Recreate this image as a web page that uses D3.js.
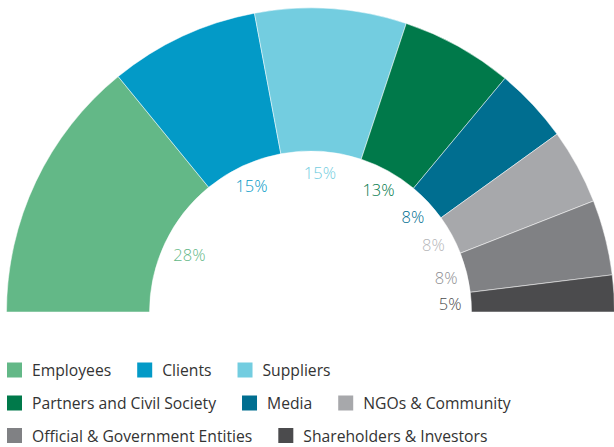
<!DOCTYPE html>
<html>
<head>
<meta charset="utf-8">
<script src="https://cdn.jsdelivr.net/npm/d3@7"></script>
<style>
  html, body { margin: 0; padding: 0; background: #fff; }
  svg { display: block; }
  text { font-family: "Open Sans", "Noto Sans", sans-serif; }
</style>
</head>
<body>
<svg id="chart" width="614" height="447"></svg>
<script>
const categories = ["Employees", "Clients", "Suppliers", "Partners and Civil Society", "Media", "NGOs & Community", "Official & Government Entities", "Shareholders & Investors"];
// slice sizes
const values = [28.2, 15.9, 16.1, 11.9, 8.0, 8.0, 8.0, 3.9];
const labels = ["28%", "15%", "15%", "13%", "8%", "8%", "8%", "5%"];
const colors = ["#63b887", "#039ac7", "#73cde0", "#00794a", "#006e90", "#a7a8ab", "#808184", "#4b4b4d"];
const labelColors = ["#63b887", "#039ac7", "#73cde0", "#00794a", "#006e90", "#b5b6b9", "#8f9093", "#4b4b4d"];
const legendRows = [[0, 1, 2], [3, 4, 5], [6, 7]];

const svg = d3.select("#chart");
const cx = 310.5, cy = 312, outerR = 304, innerR = 161, labelR = 140;

const data = categories.map((c, i) => ({ name: c, value: values[i], label: labels[i], color: colors[i], lc: labelColors[i] }));

const pie = d3.pie().value(d => d.value).sort(null)
  .startAngle(-Math.PI / 2).endAngle(Math.PI / 2);
const arcs = pie(data);
const arc = d3.arc().innerRadius(innerR).outerRadius(outerR);

const g = svg.append("g").attr("transform", `translate(${cx},${cy})`);
g.selectAll("path").data(arcs).enter().append("path")
  .attr("d", arc)
  .attr("fill", d => d.data.color)
  .attr("stroke", "#ffffff")
  .attr("stroke-width", 0.5);

g.selectAll("text.pct").data(arcs).enter().append("text")
  .attr("class", "pct")
  .attr("transform", d => {
    const a = (d.startAngle + d.endAngle) / 2;
    const r = labelR + (a < -1 ? -6 : 0);
    return `translate(${r * Math.sin(a)},${-r * Math.cos(a)})`;
  })
  .attr("text-anchor", "middle")
  .attr("dominant-baseline", "central")
  .attr("font-size", 16.5)
  .attr("font-weight", 300)
  .attr("fill", d => d.data.lc)
  .text(d => d.data.label);

// legend
const rowY = [370, 403, 435.5];
const sq = 15, gapText = 10, gapItem = 26;
legendRows.forEach((row, ri) => {
  let x = 7;
  row.forEach(idx => {
    const lg = svg.append("g");
    lg.append("rect").attr("x", x).attr("y", rowY[ri] - sq / 2).attr("width", sq).attr("height", sq).attr("fill", colors[idx]);
    const t = lg.append("text").attr("x", x + sq + gapText).attr("y", rowY[ri])
      .attr("dominant-baseline", "central")
      .attr("font-size", 15.7).attr("fill", "#333333")
      .text(categories[idx]);
    x += sq + gapText + t.node().getComputedTextLength() + gapItem;
  });
});
</script>
</body>
</html>
